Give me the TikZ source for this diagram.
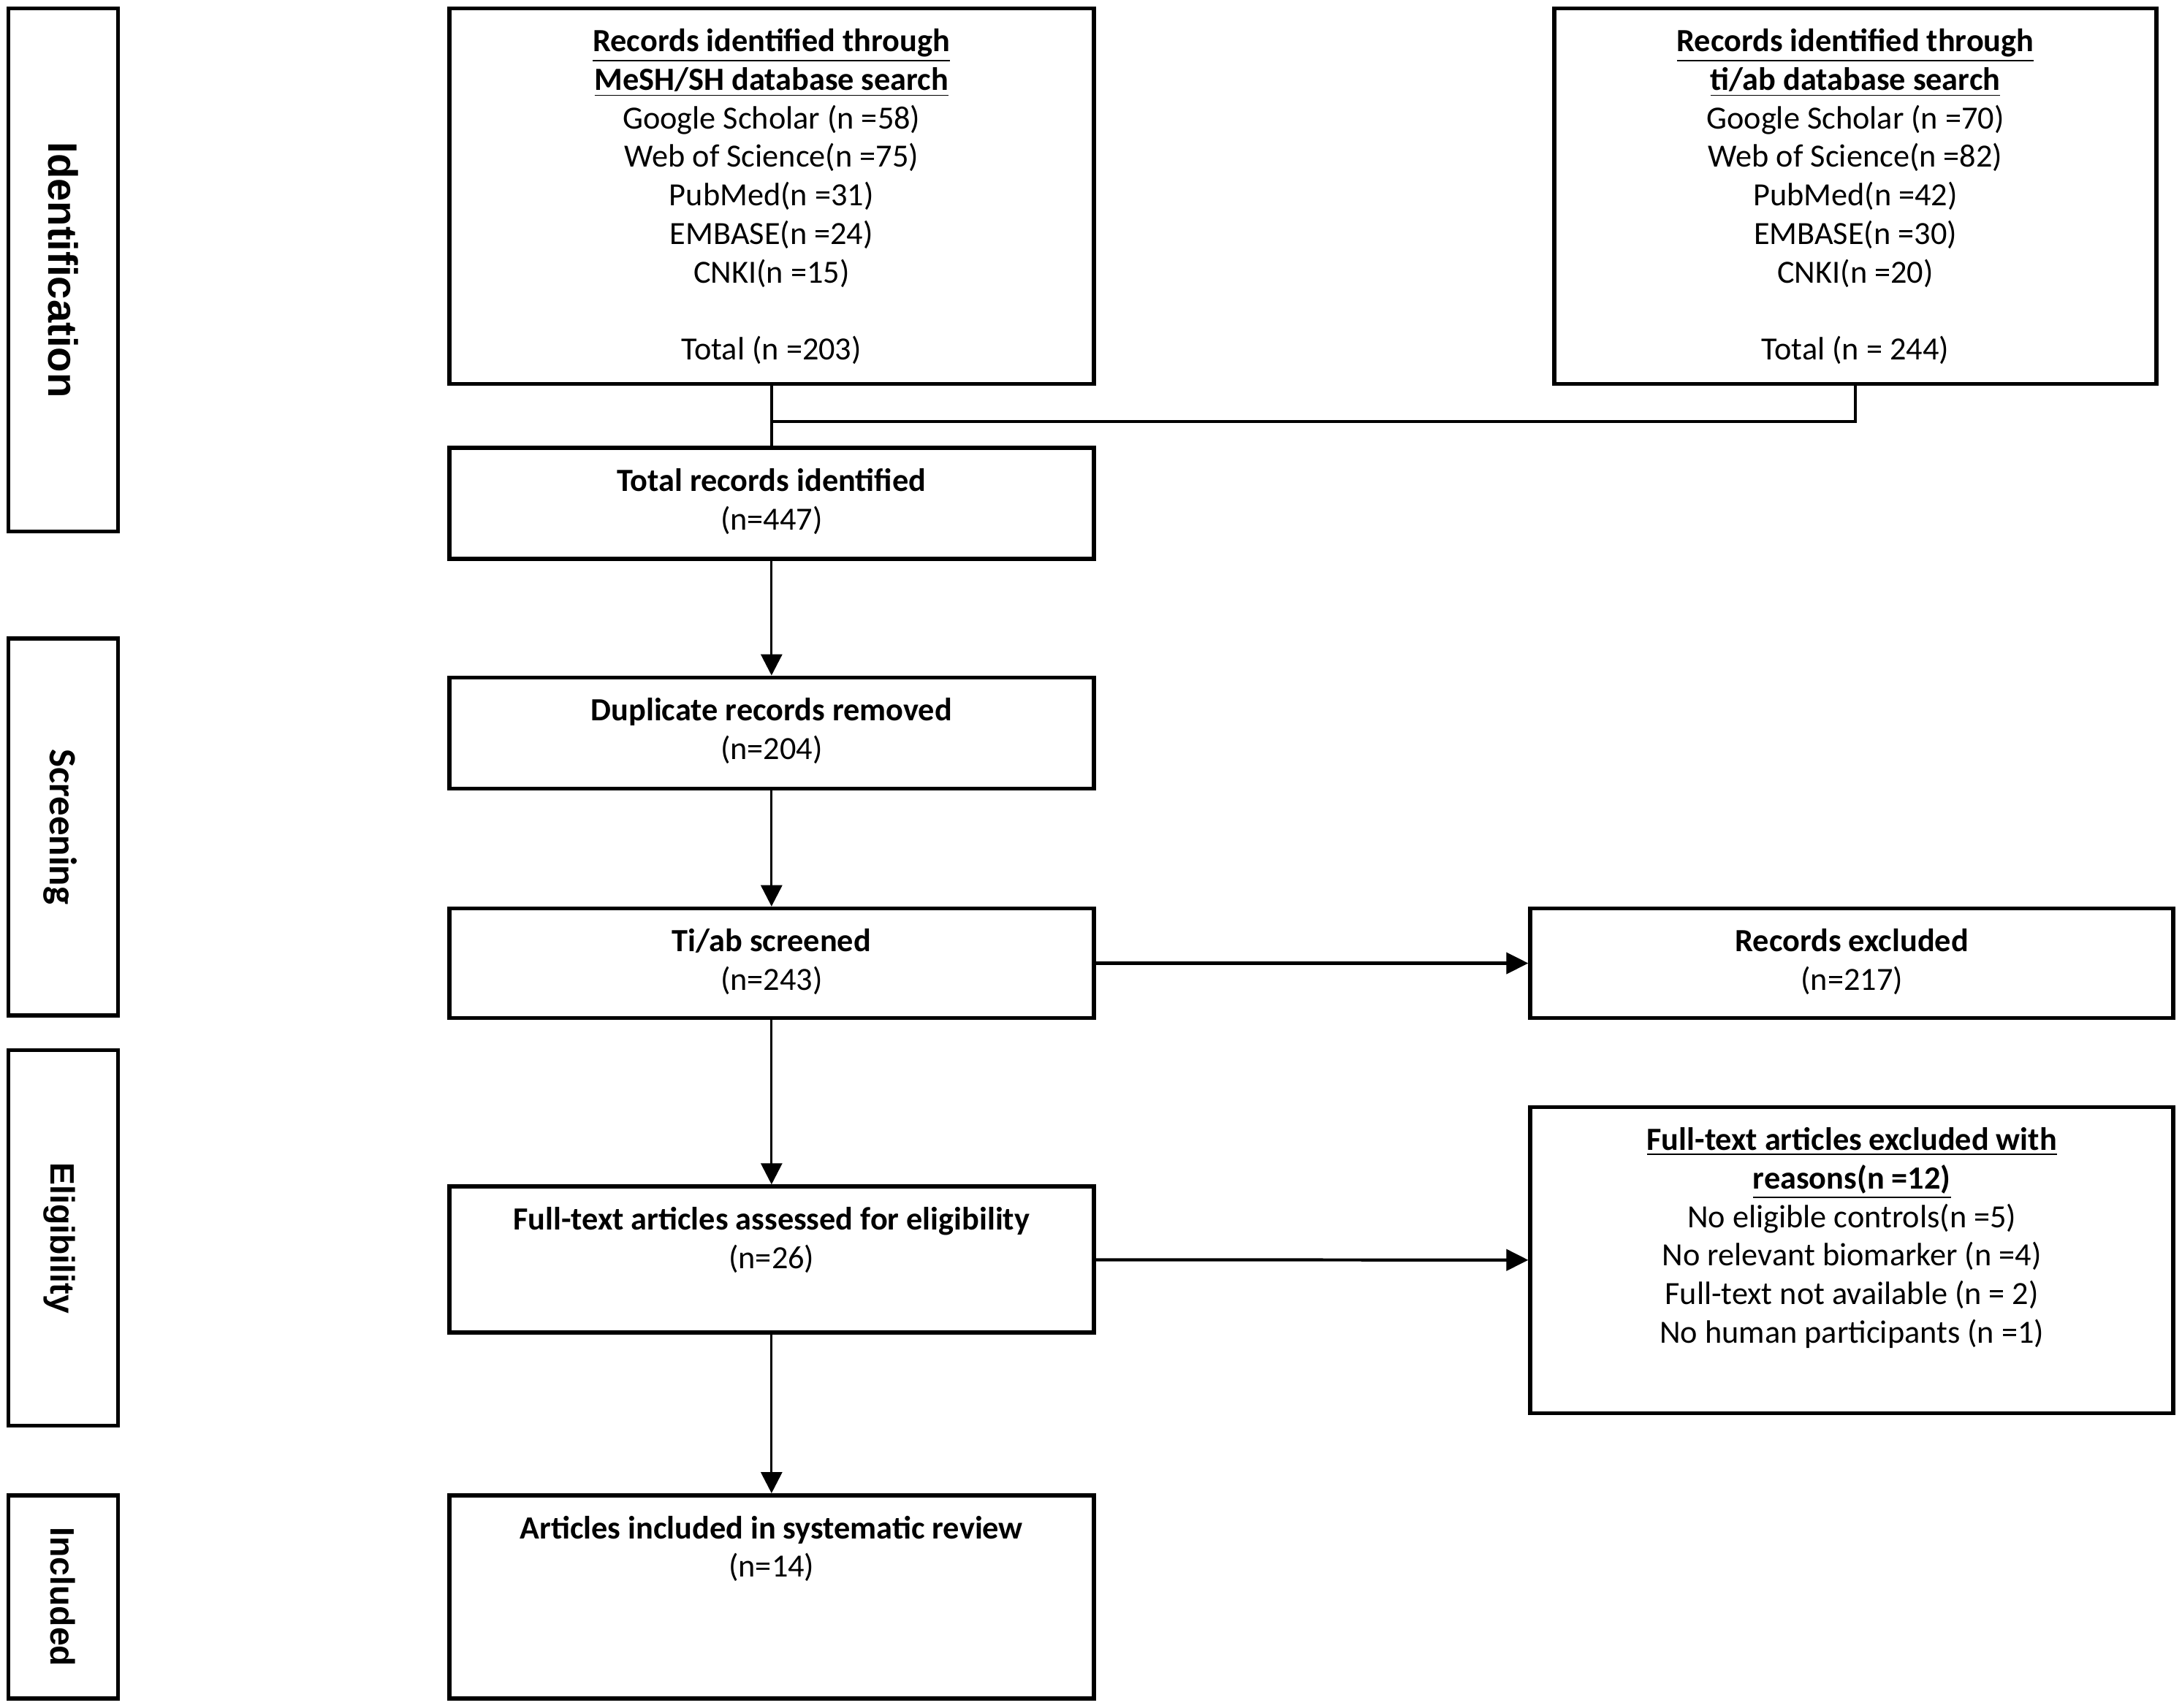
\documentclass[tikz,border=0pt]{standalone}
\usepackage{fontspec}
\setmainfont{Carlito}
\newfontfamily\phasefont{Liberation Sans}
\usepackage{tikz}
\usetikzlibrary{arrows.meta,positioning,calc}

\begin{document}
\begin{tikzpicture}[
  box/.style={draw, line width=1.6pt, inner sep=0pt},
  phase/.style={draw, line width=1.6pt, minimum width=1.5cm, inner sep=0pt},
  phaselabel/.style={font=\phasefont\bfseries\fontsize{13.2}{15}\selectfont, rotate=-90, inner sep=0pt, text depth=0pt},
  txt/.style={anchor=north, align=center, inner sep=0pt, yshift=-8.6pt, font=\fontsize{12.6}{15}\selectfont},
  arr/.style={line width=0.9pt, -{Triangle[length=2.9mm,width=2.9mm]}},
  harr/.style={line width=1.2pt, -{Triangle[length=3mm,width=2.9mm]}},
  link/.style={line width=1.1pt}
]
\useasboundingbox (0,0) rectangle (29.86,-23.37);

% Phase bars
\node[phase, minimum height=7.16cm] (idbar) at (0.866,-3.694) {};
\node[phase, minimum height=5.16cm] (scrbar) at (0.866,-11.319) {};
\node[phase, minimum height=5.14cm] (elibar) at (0.866,-16.946) {};
\node[phase, minimum height=2.78cm] (incbar) at (0.866,-21.858) {};
\node[phaselabel, font=\phasefont\bfseries\fontsize{16}{18}\selectfont] (idtxt) at (idbar) {Identification};
\node[phaselabel, font=\bfseries\fontsize{15}{17}\selectfont] (scrtxt) at (scrbar) {Screening};
\node[phaselabel] (elitxt) at (elibar) {Eligibility};
\node[phaselabel] (inctxt) at (incbar) {Included};

% Search boxes
\node[box, minimum width=8.82cm, minimum height=5.14cm] (mesh) at (10.558,-2.685) {};
\node[txt] (meshtxt) at (mesh.north) {\textbf{\underline{Records identified through}}\\
  \textbf{\underline{MeSH/SH database search}}\\
  Google Scholar (n =58)\\ Web of Science(n =75)\\ PubMed(n =31)\\
  EMBASE(n =24)\\ CNKI(n =15)\\[15pt] Total (n =203)};
\node[box, minimum width=8.24cm, minimum height=5.14cm] (tiab) at (25.39,-2.685) {};
\node[txt] (tiabtxt) at (tiab.north) {\textbf{\underline{Records identified through}}\\
  \textbf{\underline{ti/ab database search}}\\
  Google Scholar (n =70)\\ Web of Science(n =82)\\ PubMed(n =42)\\
  EMBASE(n =30)\\ CNKI(n =20)\\[15pt] Total (n = 244)};

% Main flow
\node[box, minimum width=8.82cm, minimum height=1.52cm] (total) at (10.558,-6.892) {};
\node[txt] (totaltxt) at (total.north) {\textbf{Total records identified}\\ (n=447)};
\node[box, minimum width=8.82cm, minimum height=1.52cm] (dup) at (10.558,-10.034) {};
\node[txt] (duptxt) at (dup.north) {\textbf{Duplicate records removed}\\ (n=204)};
\node[box, minimum width=8.82cm, minimum height=1.50cm] (screen) at (10.558,-13.185) {};
\node[txt] (screentxt) at (screen.north) {\textbf{Ti/ab screened}\\ (n=243)};
\node[box, minimum width=8.82cm, minimum height=2.0cm] (fulltext) at (10.558,-17.241) {};
\node[txt] (fulltexttxt) at (fulltext.north) {\textbf{Full-text articles assessed for eligibility}\\ (n=26)};
\node[box, minimum width=8.82cm, minimum height=2.78cm] (incl) at (10.558,-21.858) {};
\node[txt] (incltxt) at (incl.north) {\textbf{Articles included in systematic review}\\ (n=14)};

% Exclusions
\node[box, minimum width=8.8cm, minimum height=1.50cm] (recex) at (25.342,-13.185) {};
\node[txt] (recextxt) at (recex.north) {\textbf{Records excluded}\\ (n=217)};
\node[box, minimum width=8.8cm, minimum height=4.19cm] (ftex) at (25.342,-17.25) {};
\node[txt] (ftextxt) at (ftex.north) {\textbf{\underline{Full-text articles excluded with}}\\
  \textbf{\underline{reasons(n =12)}}\\
  No eligible controls(n =5)\\ No relevant biomarker (n =4)\\
  Full-text not available (n = 2)\\ No human participants (n =1)};

% Connectors
\coordinate (join) at (10.558,-5.77);
\draw[link] (mesh.south) -- (total.north);
\draw[link] (tiab.south) |- (join);
\draw[arr] (total) -- (dup);
\draw[arr] (dup) -- (screen);
\draw[arr] (screen) -- (fulltext);
\draw[arr] (fulltext) -- (incl);
\draw[harr] (screen) -- (recex);
\draw[harr] (fulltext) -- (ftex);
\end{tikzpicture}
\end{document}
